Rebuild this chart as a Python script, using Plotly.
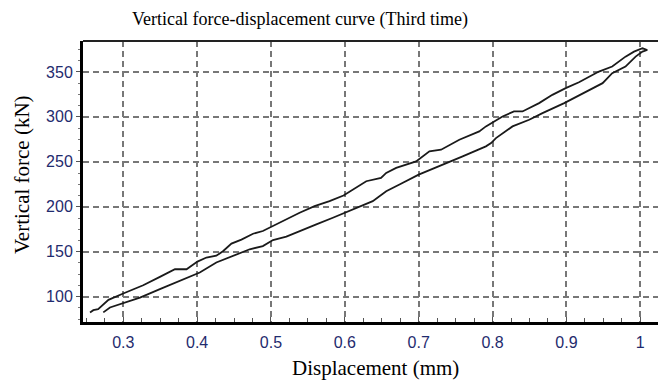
import plotly.graph_objects as go

# Upper branch (from lower-left start up to the tip)
upper_x = [0.255, 0.2595, 0.266, 0.273, 0.280, 0.300, 0.327, 0.3496, 0.370, 0.3857,
           0.4005, 0.4126, 0.426, 0.435, 0.4465, 0.460, 0.4757, 0.489, 0.5005, 0.5208,
           0.5388, 0.559, 0.5793, 0.5982, 0.6154, 0.629, 0.649, 0.656, 0.6695, 0.6965,
           0.7145, 0.7303, 0.755, 0.782, 0.791, 0.8135, 0.829, 0.8405, 0.863, 0.881,
           0.899, 0.917, 0.944, 0.962, 0.980, 0.9915, 1.003, 1.0095]
upper_y = [82.5, 85, 86, 91.7, 96.5, 103.5, 112.7, 122, 130.5, 130.5,
           139, 143.5, 145.5, 150.5, 159, 163.5, 170, 173, 177.8, 186,
           193.3, 200.7, 206.2, 212.5, 221, 228.4, 232, 237.7, 243.2, 250.5,
           261.6, 263.5, 274.6, 283.8, 289.4, 300.4, 306, 306, 315.3, 324.5,
           332, 338.5, 350.4, 356, 367, 372.6, 376.3, 374.4]

# Lower branch (from the tip back down to lower-left)
lower_x = [1.003, 0.9937, 0.980, 0.962, 0.949, 0.917, 0.897, 0.8676, 0.8496, 0.827,
           0.8046, 0.798, 0.791, 0.7595, 0.728, 0.700, 0.674, 0.656, 0.6378, 0.6154,
           0.5982, 0.5838, 0.5614, 0.5388, 0.5208, 0.5027, 0.489, 0.4712, 0.4486, 0.426,
           0.4036, 0.370, 0.3496, 0.3226, 0.300, 0.282, 0.273]
lower_y = [372.6, 367, 356, 348.6, 337.5, 323.5, 315.3, 304.2, 296.8, 289.4,
           276.4, 270.9, 267.2, 256, 245, 235.8, 224.7, 217.3, 206.2, 198.9,
           193.3, 187.8, 180.4, 173, 166.7, 163, 156.3, 152.7, 145.2, 138,
           126.8, 115.7, 108.3, 99, 92.8, 88, 82.5]

x_ticks = [0.3, 0.4, 0.5, 0.6, 0.7, 0.8, 0.9, 1.0]
x_ticktext = ["0.3", "0.4", "0.5", "0.6", "0.7", "0.8", "0.9", "1"]
y_ticks = [100, 150, 200, 250, 300, 350]
y_ticktext = ["100", "150", "200", "250", "300", "350"]

title_text = "Vertical force-displacement curve (Third time)"
x_title = "Displacement (mm)"
y_title = "Vertical force (kN)"

W, H = 658, 382
ML, MR, MT, MB = 83, 0, 41, 60

fig = go.Figure()
fig.add_trace(go.Scatter(
    x=upper_x + lower_x, y=upper_y + lower_y, mode="lines",
    line=dict(color="#1a1a1a", width=1.8), showlegend=False, hoverinfo="skip"))

tick_font = dict(family="Liberation Sans, Arial, sans-serif", size=16, color="#1f2b6e")
serif = "Liberation Serif, Times New Roman, serif"

fig.update_layout(
    width=W, height=H,
    margin=dict(l=ML, r=MR, t=MT, b=MB, pad=0),
    paper_bgcolor="white", plot_bgcolor="white",
    title=dict(text=title_text, x=300 / W, xanchor="center", xref="container",
               y=1 - 19 / H, yanchor="middle", yref="container",
               font=dict(family=serif, size=18, color="black")),
    xaxis=dict(range=[0.2455, 1.024], tickmode="array", tickvals=x_ticks, ticktext=x_ticktext,
               showgrid=True, gridcolor="#777777", griddash="6px,4px", gridwidth=1.5,
               showline=True, linecolor="black", linewidth=3,
               ticks="inside", ticklen=5, tickcolor="#555", tickwidth=1,
               ticklabelstandoff=4, tickfont=tick_font, zeroline=False,
               minor=dict(tick0=0.3, dtick=0.025, ticks="inside", ticklen=4,
                          tickcolor="#555", showgrid=False)),
    yaxis=dict(range=[71.8, 384.4], tickmode="array", tickvals=y_ticks, ticktext=y_ticktext,
               showgrid=True, gridcolor="#777777", griddash="6px,4px", gridwidth=1.5,
               showline=True, linecolor="black", linewidth=3,
               ticks="outside", ticklen=4, tickcolor="#555", tickwidth=1,
               tickfont=tick_font, zeroline=False,
               minor=dict(tick0=100, dtick=12.5, ticks="outside", ticklen=2,
                          tickcolor="#777", showgrid=False)),
    shapes=[dict(type="line", xref="paper", yref="paper", x0=0, x1=1, y0=1, y1=1,
                 line=dict(color="#222", width=2))],
    annotations=[
        dict(text=x_title, xref="paper", yref="paper", x=(375 - ML) / (W - ML - MR),
             y=-(368 - (H - MB)) / (H - MT - MB), xanchor="center", yanchor="middle",
             showarrow=False, font=dict(family=serif, size=21, color="black")),
        dict(text=y_title, xref="paper", yref="paper", x=-(ML - 22) / (W - ML - MR),
             y=1 - (175 - MT) / (H - MT - MB), xanchor="center", yanchor="middle",
             textangle=-90, showarrow=False, font=dict(family=serif, size=21, color="black")),
    ],
)

fig.write_html("out.html")
